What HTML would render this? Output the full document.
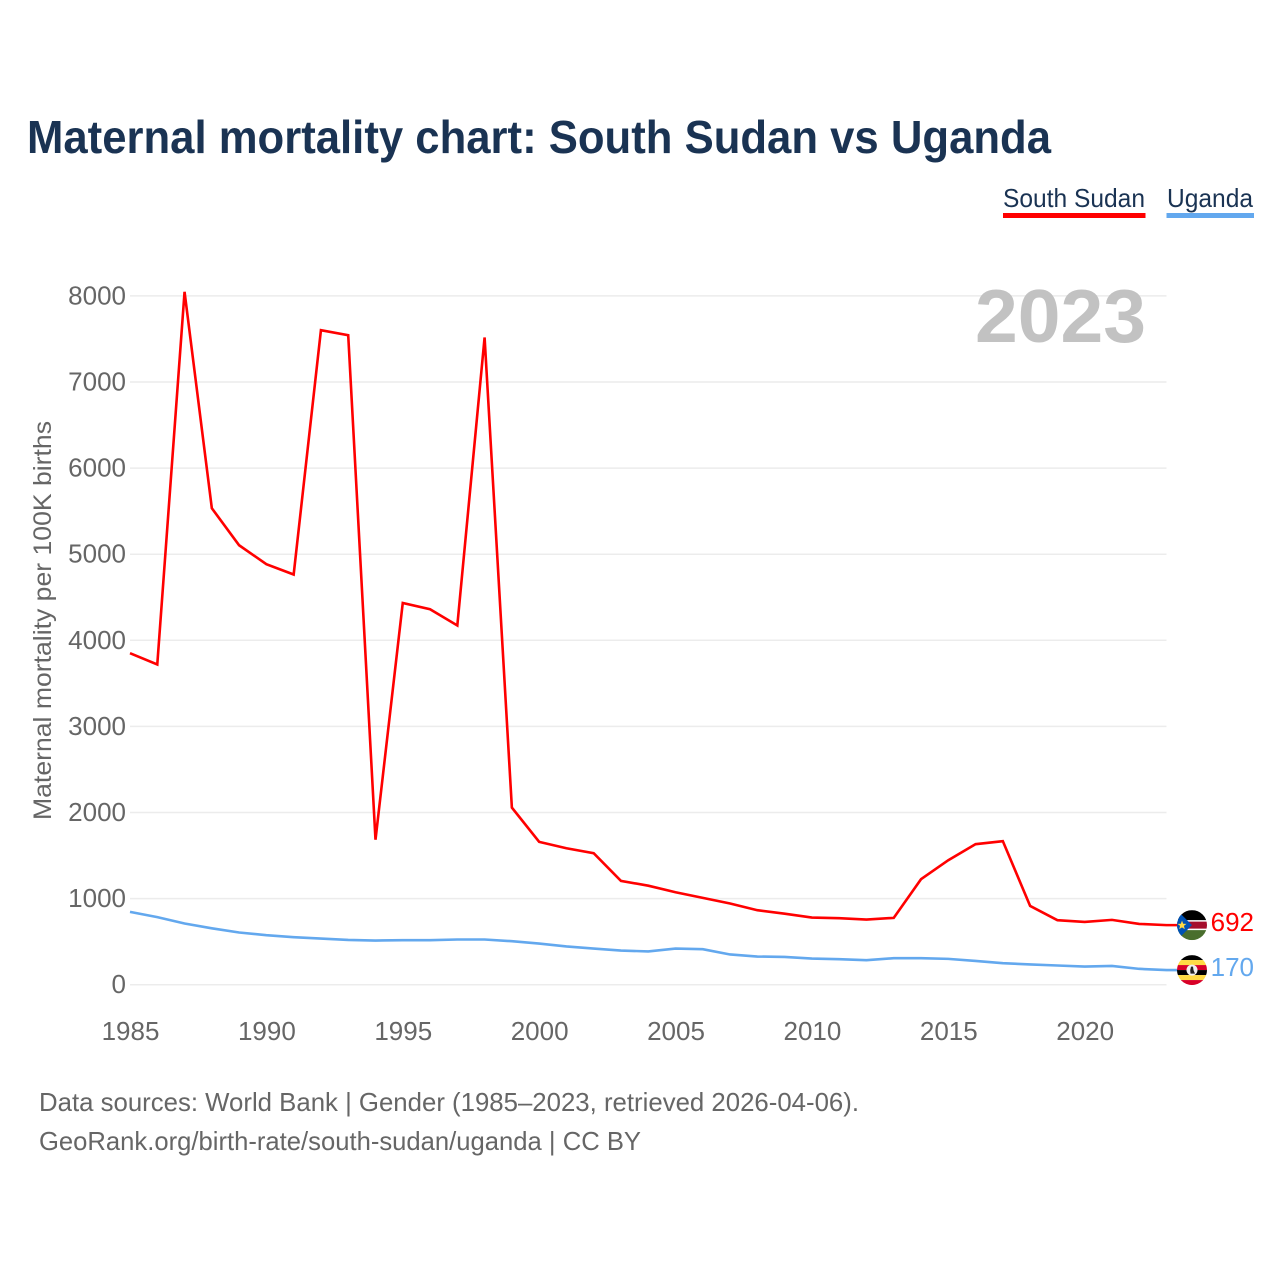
<!DOCTYPE html>
<html lang="en">
<head>
<meta charset="utf-8">
<title>Maternal mortality chart: South Sudan vs Uganda</title>
<style>
html,body{margin:0;padding:0;background:#fff;}
svg{display:block;font-family:"Liberation Sans",sans-serif;}
</style>
</head>
<body>
<svg id="chart" xmlns="http://www.w3.org/2000/svg" width="1280" height="1280" viewBox="0 0 1280 1280">
  <defs>
    <clipPath id="clip-ss"><circle cx="15" cy="15" r="15"/></clipPath>
    <clipPath id="clip-ug"><circle cx="15" cy="15" r="15"/></clipPath>
  </defs>
  <text x="27" y="153" font-size="46" font-weight="700" fill="#1a3353" textLength="1024" lengthAdjust="spacingAndGlyphs">Maternal mortality chart: South Sudan vs Uganda</text>

  <g>
    <g>
      <text x="1003" y="207" font-size="26" fill="#1a3353" textLength="142" lengthAdjust="spacingAndGlyphs">South Sudan</text>
      <rect x="1003" y="213" width="142.500" height="5" fill="#ff0000"/>
    </g>
    <g>
      <text x="1167" y="207" font-size="26" fill="#1a3353" textLength="86" lengthAdjust="spacingAndGlyphs">Uganda</text>
      <rect x="1166.500" y="213" width="87.500" height="5" fill="#63a8ee"/>
    </g>
  </g>

  <g id="grid"></g>
  <text x="975" y="342" font-size="75" font-weight="700" fill="#c2c2c2" textLength="171" lengthAdjust="spacingAndGlyphs">2023</text>
  <g id="yticks"></g>
  <g id="xticks"></g>
  <text transform="translate(51,820) rotate(-90)" x="0" y="0" font-size="25" fill="#666666" textLength="399" lengthAdjust="spacingAndGlyphs">Maternal mortality per 100K births</text>
  <g id="series"></g>

  <g id="flag-ss">
    <g clip-path="url(#clip-ss)">
      <rect width="30" height="30" fill="#ffffff"/>
      <rect width="30" height="10" fill="#000000"/>
      <rect y="11.5" width="30" height="7" fill="#a50e2d"/>
      <rect y="20" width="30" height="10" fill="#496e2d"/>
      <polygon points="0,0 15,15 0,30" fill="#0052b4"/>
      <polygon points="5,10.5 6.2,13.6 9.5,13.8 6.9,15.8 7.8,19 5,17.2 2.2,19 3.1,15.8 0.5,13.8 3.8,13.6" fill="#ffda44"/>
    </g>
  </g>
  <g id="flag-ug">
    <g clip-path="url(#clip-ug)">
      <rect width="30" height="5" fill="#000000"/>
      <rect y="5" width="30" height="5" fill="#ffda44"/>
      <rect y="10" width="30" height="5" fill="#d80027"/>
      <rect y="15" width="30" height="5" fill="#000000"/>
      <rect y="20" width="30" height="5" fill="#ffda44"/>
      <rect y="25" width="30" height="5" fill="#d80027"/>
      <circle cx="15" cy="15" r="5.5" fill="#f0f0f0"/>
      <path d="M14 11.5 L16 11.5 L16.5 15 L18 18.5 L13.5 18.5 L13.2 15 Z" fill="#222222"/>
    </g>
  </g>
  <text id="value-ss" x="1254" text-anchor="end" font-size="26" fill="#ff0000"></text>
  <text id="value-ug" x="1254" text-anchor="end" font-size="26" fill="#63a8ee"></text>

  <text x="39" y="1111" font-size="26" fill="#666666" textLength="820" lengthAdjust="spacingAndGlyphs">Data sources: World Bank | Gender (1985–2023, retrieved 2026-04-06).</text>
  <text x="39" y="1150" font-size="26" fill="#666666" textLength="602" lengthAdjust="spacingAndGlyphs">GeoRank.org/birth-rate/south-sudan/uganda | CC BY</text>
</svg>
<script>
const years = [1985,1986,1987,1988,1989,1990,1991,1992,1993,1994,1995,1996,1997,1998,1999,2000,2001,2002,2003,2004,2005,2006,2007,2008,2009,2010,2011,2012,2013,2014,2015,2016,2017,2018,2019,2020,2021,2022,2023];
const southSudan = [3850,3719,8047,5534,5104,4884,4764,7602,7544,1684,4434,4361,4172,7517,2057,1659,1585,1527,1206,1150,1074,1008,943,865,825,780,772,757,776,1225,1446,1632,1667,915,749,729,753,706,692];
const uganda = [846,785,711,655,606,575,552,536,520,513,517,517,525,525,505,478,444,420,397,386,420,412,351,327,323,304,296,285,308,308,300,276,250,235,223,211,218,184,170];
const yTickValues = [0,1000,2000,3000,4000,5000,6000,7000,8000];
const xTickValues = [1985,1990,1995,2000,2005,2010,2015,2020];

const NS = 'http://www.w3.org/2000/svg';
const xScale = function (year) { return 130 + (year - 1985) * (1166.5 - 130) / 38; };
const yScale = function (v) { return 984.7 - v * 0.0861; };

function svgEl(tag, attrs) {
  const el = document.createElementNS(NS, tag);
  Object.keys(attrs).forEach(function (k) { el.setAttribute(k, attrs[k]); });
  return el;
}

const grid = document.getElementById('grid');
const yticks = document.getElementById('yticks');
yTickValues.forEach(function (v) {
  const line = svgEl('line', { x1: 130, x2: 1166.5, y1: yScale(v), y2: yScale(v), stroke: '#ececec', 'stroke-width': 1.5 });
  
  
  grid.appendChild(line);
  const t = svgEl('text', { x: 126, y: yScale(v) + 8.5, 'text-anchor': 'end', 'font-size': 26, fill: '#666666' });
  
  
  t.textContent = String(v);
  yticks.appendChild(t);
});

const xticks = document.getElementById('xticks');
xTickValues.forEach(function (year) {
  const t = svgEl('text', { x: xScale(year) + 0.5, y: 1040, 'text-anchor': 'middle', 'font-size': 26, fill: '#666666' });
  
  
  t.textContent = String(year);
  xticks.appendChild(t);
});

const seriesGroup = document.getElementById('series');
function drawSeries(values, color) {
  const pts = values.map(function (v, i) { return xScale(years[i]).toFixed(2) + ',' + yScale(v).toFixed(2); });
  const last = values[values.length - 1];
  pts.push('1178,' + yScale(last).toFixed(2));
  const line = svgEl('polyline', { points: pts.join(' '), fill: 'none', stroke: color, 'stroke-width': 2.6, 'stroke-linejoin': 'miter' });
  return line;
}
const redLine = drawSeries(southSudan, '#ff0000');


seriesGroup.appendChild(redLine);
const blueLine = drawSeries(uganda, '#63a8ee');


seriesGroup.appendChild(blueLine);

const lastSS = southSudan[southSudan.length - 1];
const lastUG = uganda[uganda.length - 1];
document.getElementById('flag-ss').setAttribute('transform', 'translate(1177,' + (yScale(lastSS) - 15) + ')');
document.getElementById('flag-ug').setAttribute('transform', 'translate(1177,' + (yScale(lastUG) - 15) + ')');
const vSS = document.getElementById('value-ss');
vSS.setAttribute('y', yScale(lastSS) + 6);
vSS.textContent = String(lastSS);
const vUG = document.getElementById('value-ug');
vUG.setAttribute('y', yScale(lastUG) + 6);
vUG.textContent = String(lastUG);
</script>
</body>
</html>
